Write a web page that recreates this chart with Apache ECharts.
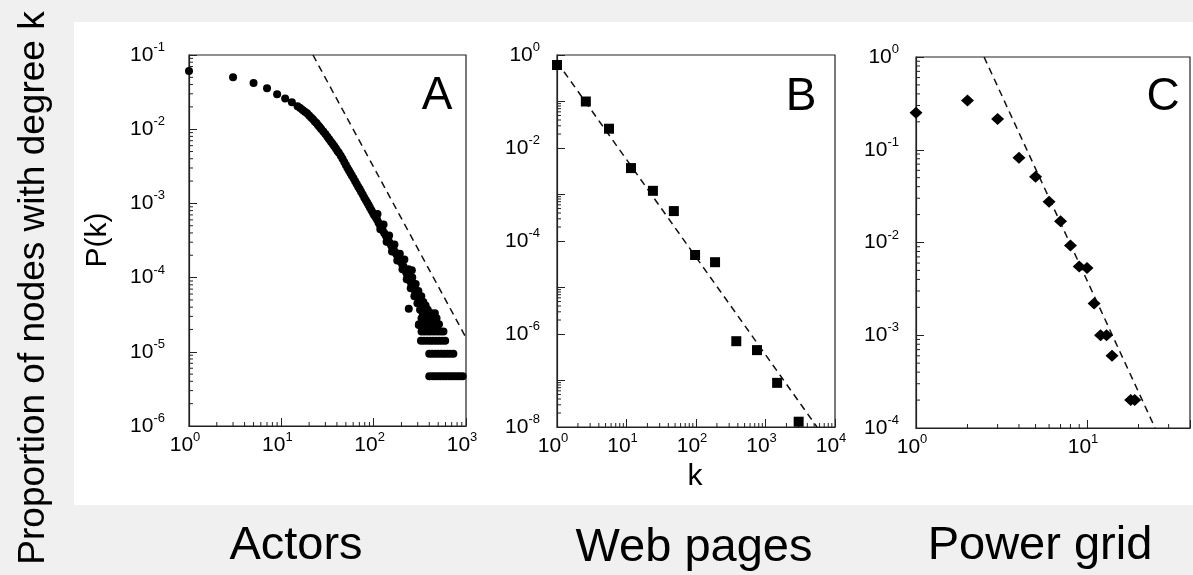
<!DOCTYPE html>
<html><head><meta charset="utf-8">
<script src="https://cdn.jsdelivr.net/npm/echarts@6/dist/echarts.min.js"></script>
<style>html,body{margin:0;padding:0;background:#f0f0f0;}#c{width:1193px;height:575px;}</style>
</head><body><div id="c"></div>
<script>
// ---------- Panel A: Actors ----------
const actorsK = [1,3,5,7,9,11,13,
  15,16,17,18,19,20,21,22,23,24,25,26,27,28.5,30,31.5,33,34.5,36,37.5,39,40.5,42,44,46,48,50,52,54,56,58,60.5,63,65.5,68,70.5,73,76,79,82,85,88,91,94.5,98,101,105,109,113,117,121,125,130,135,140,145,150,155,160,165,171,177,183,189,196,203,210,217,225,232,240,248,256,264,273,282,291,300,310,320,330,340,350,361,372,383,395];
const actorsP = [0.061,0.050,0.042,0.0356,0.0295,0.026,0.023,
  0.0204,0.0193,0.0182,0.0172,0.0164,0.0153,0.0144,0.0136,0.0127,0.0121,0.0113,0.0107,0.0101,0.0093,0.0086,0.0079,0.0073,0.0068,0.0063,0.0059,0.0055,0.0051,0.0048,0.0044,0.0040,0.0036,0.0033,0.0030,0.00277,0.00257,0.00237,0.00218,0.00199,0.00183,0.00168,0.00156,0.00144,0.00132,0.0012,0.00111,0.00103,9.5e-4,8.8e-4,8.1e-4,7.5e-4,7.0e-4,6.5e-4,6.0e-4,5.5e-4,5.1e-4,4.7e-4,4.35e-4,4.0e-4,3.7e-4,3.4e-4,3.15e-4,2.9e-4,2.7e-4,2.5e-4,2.35e-4,2.2e-4,2.05e-4,1.9e-4,1.77e-4,1.64e-4,1.53e-4,1.42e-4,1.3e-4,1.17e-4,1.07e-4,9.8e-5,9.0e-5,8.2e-5,7.6e-5,7.0e-5,6.4e-5,5.9e-5,5.5e-5,5.1e-5,4.7e-5,4.25e-5,3.95e-5,3.66e-5,3.4e-5,3.14e-5,2.9e-5,2.69e-5];
const actorsScatterK = [110,118,128,138,147,158,168,180,192,205,215,228,238,240,259,252,262,276,285,298,305,318,328,345,365,385,405,425,445,308];
const actorsScatterP = [7.2e-4,4.5e-4,5.2e-4,3.05e-4,3.7e-4,2.25e-4,2.8e-4,1.7e-4,2.1e-4,1.3e-4,1.75e-4,9.5e-5,1.3e-4,3.8e-5,1.26e-4,7.2e-5,1.0e-4,5.6e-5,8.2e-5,4.5e-5,6.6e-5,3.7e-5,5.6e-5,4.7e-5,4.2e-5,3.7e-5,3.3e-5,3.0e-5,2.83e-5,2.3e-5];
// quantised tail rows (one, two, three ... actors with that degree)
const actorsTailP = [4.7e-6, 9.4e-6, 1.41e-5, 1.88e-5, 2.36e-5, 2.83e-5, 3.3e-5];
const actorsTailK = [
  [400,430,460,495,530,570,610,655,700,750,805,860,920],
  [400,430,465,500,540,580,625,675,730],
  [325,350,380,410,440,475,510,550,595],
  [330,355,385,415,450,490,530,570],
  [310,335,365,395,430,470,510],
  [330,360,400,440,480],
  [340,380,420,460]
];
const actorsFitK = [22, 1000];
const actorsFitP = [0.1, 1.55e-5];

// ---------- Panel B: Web pages ----------
const webK = [1,2.6,5.6,11.6,24,48,97,188,380,755,1470,3000];
const webP = [0.61,0.10,0.026,0.0037,0.0012,4.4e-4,5e-5,3.5e-5,7e-7,4.5e-7,8.9e-8,1.3e-8];
const webFitK = [1, 5500];
const webFitP = [0.71, 1e-8];

// ---------- Panel C: Power grid ----------
const powerK = [1,2,3,4,5,6,7,8,9,10,11,12,13,14,18,19];
const powerP = [0.25,0.34,0.215,0.082,0.051,0.0275,0.017,0.0093,0.0055,0.0053,0.0022,0.001,0.001,6e-4,2e-4,2e-4];
const powerFitK = [2.5, 25];
const powerFitP = [1, 1e-4];

// ---------- axes ----------
const axisRanges = [
  {xmin:1, xmax:1000, ymin:1e-6, ymax:0.1},
  {xmin:1, xmax:1e4, ymin:1e-8, ymax:1},
  {xmin:1, xmax:40, ymin:1e-4, ymax:1}
];
const minorMults = [2,3,4,5,6,7,8,9];
const xMinorDecades = [[1,10,100],[1,10,100,1000],[1,10]];
const yMinorDecades = [[1e-6,1e-5,1e-4,1e-3,1e-2],[1e-8,1e-6,1e-4,1e-2],[1e-4,1e-3,1e-2,1e-1]];
const yExtraTicks = [[],[1e-7,1e-5,1e-3,1e-1],[]];

const FONT = "'Liberation Sans', Arial, Helvetica, sans-serif";
const INK = '#000';
const FRAME = '#222';

function expLabel(v, onlyEven) {
  const l = Math.log10(v);
  const e = Math.round(l);
  if (Math.abs(l - e) > 1e-6) return '';
  if (onlyEven && e % 2 !== 0) return '';
  return '{b|10}{s|' + e + '}';
}
const richY = {
  b: {fontSize: 21, fontFamily: FONT, color: INK, lineHeight: 28},
  s: {fontSize: 13, fontFamily: FONT, color: INK, lineHeight: 12, verticalAlign: 'top'}
};
const richX = {
  b: {fontSize: 21, fontFamily: FONT, color: INK, lineHeight: 28},
  s: {fontSize: 13, fontFamily: FONT, color: INK, lineHeight: 12, verticalAlign: 'top'}
};
const grids = [
  {left:189, top:55, width:277, height:371},
  {left:557, top:55, width:278, height:372},
  {left:916, top:57, width:276, height:371}
].map(g => Object.assign(g, {show:true, borderColor:FRAME, borderWidth:1.2, backgroundColor:'rgba(0,0,0,0)'}));

const yMargins = [24, 17, 17];
const xAxes = axisRanges.map((r, i) => ({
  type:'log', logBase:10, gridIndex:i, min:r.xmin, max:r.xmax,
  splitLine:{show:false},
  axisLine:{show:true, lineStyle:{color:FRAME, width:1.2}},
  axisTick:{show:true, inside:true, length:8, lineStyle:{color:FRAME, width:1}},
  axisLabel:{margin:5, formatter: v => expLabel(v, false), rich: richX, padding:[0,8,0,0]}
}));
const yAxes = axisRanges.map((r, i) => ({
  type:'log', logBase:10, gridIndex:i, min:r.ymin, max:r.ymax,
  splitLine:{show:false},
  axisLine:{show:true, lineStyle:{color:FRAME, width:1.2}},
  axisTick:{show:true, inside:true, length:8, lineStyle:{color:FRAME, width:1}},
  axisLabel:{margin:yMargins[i], formatter: v => expLabel(v, i === 1), rich: richY}
}));

function tickSeries(idx, vals, dir, len, fixed) {
  return {
    type:'custom', xAxisIndex:idx, yAxisIndex:idx, silent:true, z:3,
    data: vals.map(v => dir === 'x' ? [v, fixed] : [fixed, v]),
    renderItem: (params, api) => {
      const p = api.coord([api.value(0), api.value(1)]);
      const shape = dir === 'x'
        ? {x1:p[0], y1:p[1], x2:p[0], y2:p[1] - len}
        : {x1:p[0], y1:p[1], x2:p[0] + len, y2:p[1]};
      return {type:'line', shape, style:{stroke:FRAME, lineWidth:1}};
    }
  };
}

const series = [];
axisRanges.forEach((r, i) => {
  const xv = xMinorDecades[i].flatMap(d => minorMults.map(m => m * d)).filter(v => v < r.xmax);
  const yv = yMinorDecades[i].flatMap(d => minorMults.map(m => m * d)).filter(v => v < r.ymax);
  series.push(tickSeries(i, xv, 'x', 4, r.ymin));
  series.push(tickSeries(i, yv, 'y', 4, r.xmin));
  if (yExtraTicks[i].length) series.push(tickSeries(i, yExtraTicks[i], 'y', 6, r.xmin));
});

function pairs(ks, ps) { return ks.map((k, j) => [k, ps[j]]); }
const dashed = {type:[7,5], width:1.5, color:'#111'};
const mark = {color:'#000', opacity:1};

const actorsAll = pairs(actorsK, actorsP)
  .concat(pairs(actorsScatterK, actorsScatterP))
  .concat(actorsTailK.flatMap((row, j) => row.map(k => [k, actorsTailP[j]])));

series.push(
  {type:'line', xAxisIndex:0, yAxisIndex:0, data:pairs(actorsFitK, actorsFitP), symbol:'none', lineStyle:dashed, z:4},
  {type:'scatter', xAxisIndex:0, yAxisIndex:0, data:actorsAll, symbol:'circle', symbolSize:8, itemStyle:mark, clip:false, z:5},
  {type:'line', xAxisIndex:1, yAxisIndex:1, data:pairs(webFitK, webFitP), symbol:'none', lineStyle:dashed, z:4},
  {type:'scatter', xAxisIndex:1, yAxisIndex:1, data:pairs(webK, webP), symbol:'rect', symbolSize:10, itemStyle:mark, clip:false, z:5},
  {type:'line', xAxisIndex:2, yAxisIndex:2, data:pairs(powerFitK, powerFitP), symbol:'none', lineStyle:dashed, z:4},
  {type:'scatter', xAxisIndex:2, yAxisIndex:2, data:pairs(powerK, powerP), symbol:'diamond', symbolSize:[13,12], itemStyle:mark, clip:false, z:5}
);

function txt(text, x, y, size, rot) {
  return {type:'text', x, y, rotation: rot || 0, silent:true, z:10,
    style:{text, fontSize:size, fontFamily:FONT, fill:INK, align:'center', verticalAlign:'middle'}};
}

const option = {
  backgroundColor:'#f0f0f0',
  animation:false,
  grid: grids,
  xAxis: xAxes,
  yAxis: yAxes,
  series,
  graphic: [
    {type:'rect', shape:{x:74, y:22, width:1119, height:483}, style:{fill:'#ffffff'}, z:-100, silent:true},
    txt('Proportion of nodes with degree k', 34, 288, 37, Math.PI/2),
    txt('P(k)', 98, 240, 30, Math.PI/2),
    txt('k', 695, 477, 30),
    txt('A', 437, 96, 46),
    txt('B', 801, 97, 46),
    txt('C', 1163, 97, 46),
    txt('Actors', 296, 546, 47),
    txt('Web pages', 694, 548, 47),
    txt('Power grid', 1040, 546, 47)
  ]
};
const chart = echarts.init(document.getElementById('c'));
chart.setOption(option);
</script></body></html>
